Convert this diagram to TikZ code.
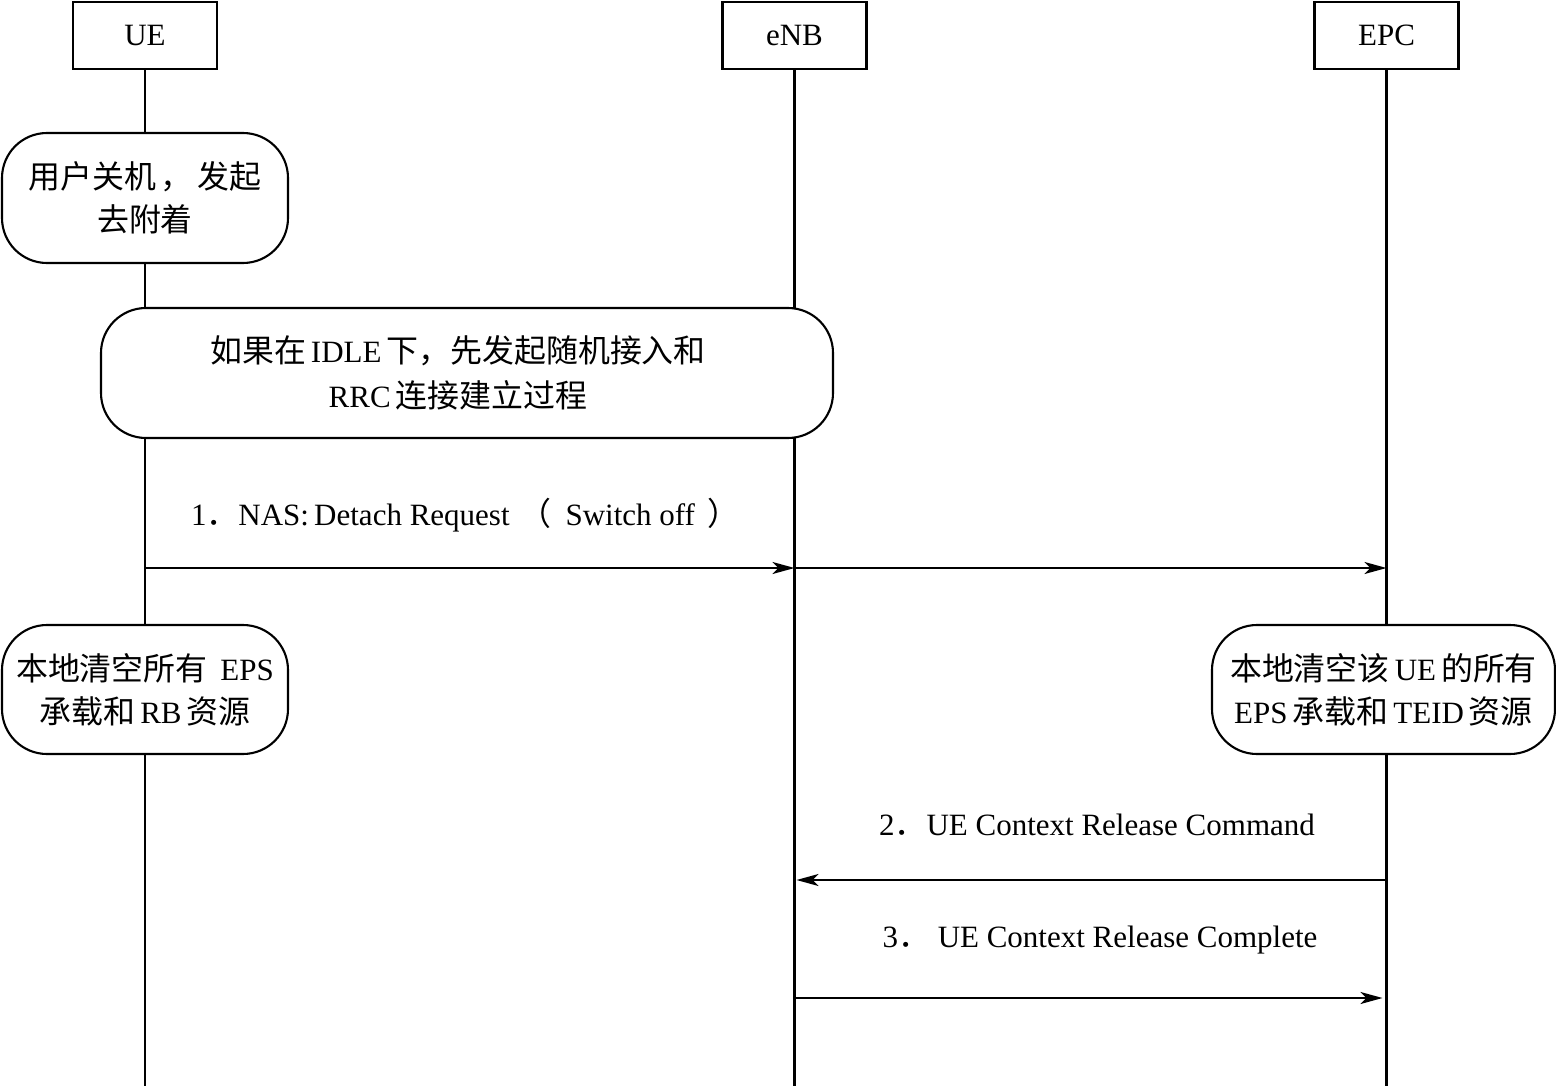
\documentclass[tikz,border=0pt]{standalone}
\usepackage{fontspec}
\setmainfont{Liberation Serif}
\newfontfamily\cjk[Scale=1.03]{Noto Sans CJK SC}
\newcommand\gp{\hspace{5pt}}
\usetikzlibrary{arrows.meta}
\begin{document}
\begin{tikzpicture}[x=1pt,y=-1pt,
  font=\fontsize{31}{43}\selectfont,
  line width=2.1pt,
  actor/.style={draw, fill=white, minimum width=144pt, minimum height=67pt, inner sep=0pt},
  bubble/.style={draw, fill=white, rounded corners=45pt, align=center, inner sep=0pt},
  msg/.style={-{Stealth[length=22pt,width=12pt,inset=6pt]}},
  lbl/.style={inner sep=0pt, anchor=center}
]
\useasboundingbox (0,0) rectangle (1556,1086);

% actors
\node[actor] (ue)  at (145,35.5)  {UE};
\node[actor] (enb) at (794.5,35.5) {eNB};
\node[actor] (epc) at (1386.5,35.5) {EPC};

% lifeline ends
\coordinate (ueend)  at (ue.south  |- 0,1086);
\coordinate (enbend) at (enb.south |- 0,1086);
\coordinate (epcend) at (epc.south |- 0,1086);
\draw (ue.south) -- (ueend);
\draw (enb.south) -- (enbend);
\draw (epc.south) -- (epcend);

% bubbles
\node[bubble, minimum width=286pt, minimum height=130pt] (b1) at (145,198)
  {{\cjk 用户关机\gp，\gp 发起}\\{\cjk 去附着}};
\node[bubble, minimum width=732pt, minimum height=130pt, font=\fontsize{31}{45}\selectfont] (b2) at (467,373)
  {{\cjk 如果在}\gp IDLE\gp{\cjk 下，先发起随机接入和}\hspace*{18pt}\\RRC\gp{\cjk 连接建立过程}\hspace*{18pt}};
\node[bubble, minimum width=286pt, minimum height=129pt] (b3) at (145,689.5)
  {{\cjk 本地清空所有}\gp\ EPS\\{\cjk 承载和}\gp RB\gp{\cjk 资源}};
\node[bubble, minimum width=343pt, minimum height=129pt] (b4) at (1383.5,689.5)
  {{\cjk 本地清空该}\gp UE\gp{\cjk 的所有}\\EPS\gp{\cjk 承载和}\gp TEID\gp{\cjk 资源}};

% message 1
\coordinate (m1a) at (ue.south  |- 0,568);
\coordinate (m1b) at (enb.south |- 0,568);
\coordinate (m1c) at (epc.south |- 0,568);
\draw[msg] (m1a) -- (m1b);
\draw[msg] (m1b) -- (m1c);
\node[lbl] (l1) at (465,515) {1{\cjk ．}NAS:\,Detach Request\hspace{10pt}{\cjk （}\hspace{14pt}Switch off\hspace{12pt}{\cjk ）}};

% message 2
\coordinate (m2a) at (epc.south |- 0,880);
\coordinate (m2b) at (enb.south |- 0,880);
\draw[msg] (m2a) -- ([xshift=2pt]m2b);
\node[lbl] (l2) at (1097,825) {2{\cjk ．}UE Context Release Command};

% message 3
\coordinate (m3a) at (enb.south |- 0,998);
\coordinate (m3b) at (epc.south |- 0,998);
\draw[msg] (m3a) -- ([xshift=-4pt]m3b);
\node[lbl] (l3) at (1100,940) {3{\cjk ．}\ UE Context Release Complete};
\end{tikzpicture}
\end{document}
